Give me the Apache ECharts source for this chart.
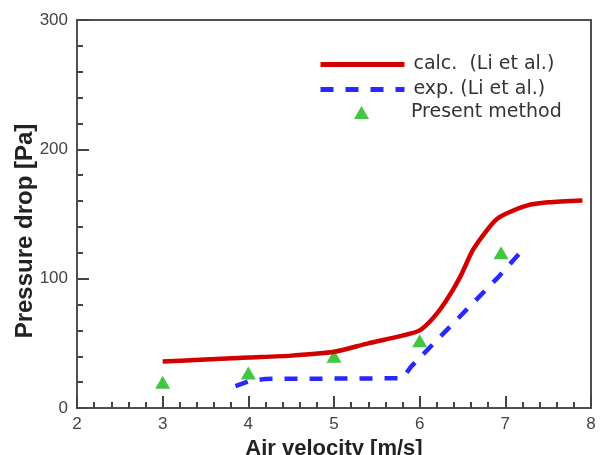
<!DOCTYPE html>
<html>
<head>
<meta charset="utf-8">
<script src="https://cdn.jsdelivr.net/npm/echarts@6/dist/echarts.min.js"></script>
<style>
html, body { margin: 0; padding: 0; background: #fff; }
#chart { width: 602px; height: 455px; }
</style>
</head>
<body>
<div id="chart"></div>
<script>
// calc. (Li et al.) - red solid curve
var calcX = [3, 3.5, 4, 4.5, 5, 5.4, 5.8, 6.0, 6.15, 6.3, 6.47, 6.62, 6.78, 6.9, 7.0, 7.25, 7.5, 7.9];
var calcY = [36, 37.5, 39, 40.5, 43.5, 50, 56, 60, 69, 82, 101, 122, 137, 146, 150, 156.5, 159, 160.5];

// exp. (Li et al.) - blue dashed
var expX = [3.85, 4.0, 4.2, 5.8, 5.9, 6.9, 7.2];
var expY = [17, 20.5, 22.5, 23, 32, 100, 122];

// Present method - green triangles
var presX = [3, 4, 5, 6, 6.95];
var presY = [20, 27, 40, 52, 120];

var names = ['calc.  (Li et al.)', 'exp. (Li et al.)', 'Present method'];

function pairs(xs, ys) {
	var out = [];
	for (var i = 0; i < xs.length; i++) out.push([xs[i], ys[i]]);
	return out;
}

var chart = echarts.init(document.getElementById('chart'));
var axisColor = '#505050';
var tickStyle = { color: '#444', width: 2 };
var legendText = { fontFamily: 'DejaVu Sans', fontSize: 19, lineHeight: 19, color: '#333' };
var option = {
	animation: false,
	grid: {
		left: 77, right: 11, top: 20, bottom: 47,
		outerBoundsMode: 'none',
		show: true, borderColor: axisColor, borderWidth: 2
	},
	legend: [{
		orient: 'vertical',
		left: 318, top: 55, padding: 0,
		itemWidth: 84, itemHeight: 14, itemGap: 6,
		textStyle: Object.assign({ padding: [0, 0, 0, 4] }, legendText),
		data: [
			{ name: names[0], itemStyle: { opacity: 0 }, lineStyle: { width: 5 } },
			{ name: names[1], itemStyle: { opacity: 0 }, lineStyle: { width: 5 } }
		]
	}, {
		orient: 'vertical',
		left: 354, top: 103, padding: 0,
		itemWidth: 15, itemHeight: 13,
		textStyle: Object.assign({ padding: [0, 0, 0, 37] }, legendText),
		data: [names[2]]
	}],
	xAxis: {
		type: 'value', min: 2, max: 8, interval: 1,
		name: 'Air velocity [m/s]', nameLocation: 'middle', nameGap: 25,
		nameTextStyle: { fontFamily: 'Liberation Sans', fontWeight: 'bold', fontSize: 22, color: '#222' },
		axisLine: { lineStyle: { color: axisColor, width: 2 } },
		axisTick: { show: true, inside: true, length: 12, lineStyle: tickStyle },
		minorTick: { show: true, splitNumber: 5, length: 6, lineStyle: tickStyle },
		splitLine: { show: false },
		axisLabel: { margin: 8, fontFamily: 'Liberation Sans', fontSize: 17, color: '#444' }
	},
	yAxis: {
		type: 'value', min: 0, max: 300, interval: 100,
		axisLine: { show: true, lineStyle: { color: axisColor, width: 2 } },
		axisTick: { show: true, inside: true, length: 12, lineStyle: tickStyle },
		minorTick: { show: true, splitNumber: 5, length: 6, lineStyle: tickStyle },
		splitLine: { show: false },
		axisLabel: { margin: 9, fontFamily: 'Liberation Sans', fontSize: 17, color: '#444' }
	},
	graphic: [{
		type: 'text',
		x: 25, y: 231, rotation: Math.PI / 2,
		style: {
			text: 'Pressure drop [Pa]', fontFamily: 'Liberation Sans', fontWeight: 'bold',
			fontSize: 24, fill: '#222', align: 'center', verticalAlign: 'middle'
		}
	}],
	series: [
		{
			name: names[0], type: 'line', data: pairs(calcX, calcY),
			symbol: 'none', smooth: 0.25,
			lineStyle: { color: '#d40000', width: 4.5 },
			itemStyle: { color: '#d40000' }
		},
		{
			name: names[1], type: 'line', data: pairs(expX, expY),
			symbol: 'none',
			lineStyle: { color: '#2828ff', width: 4.5, type: [13, 12], cap: 'butt' },
			itemStyle: { color: '#2828ff' }
		},
		{
			name: names[2], type: 'scatter', data: pairs(presX, presY),
			symbol: 'triangle', symbolSize: [15, 13],
			itemStyle: { color: '#12b812' }
		}
	]
};
chart.setOption(option);
</script>
</body>
</html>
